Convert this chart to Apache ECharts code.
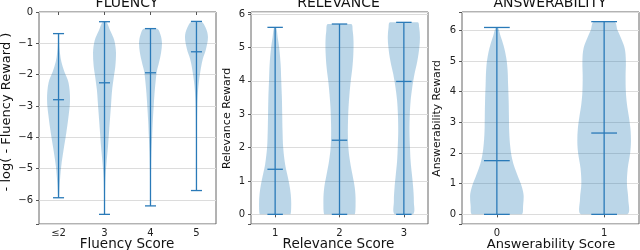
<!DOCTYPE html>
<html>
<head>
<meta charset="utf-8">
<script src="https://cdn.jsdelivr.net/npm/echarts@6/dist/echarts.min.js"></script>
<style>html,body{margin:0;padding:0;background:#fff}#c{width:640px;height:250px}</style>
</head>
<body>
<div id="c"></div>
<script>
// ---------- data ----------
const fluencyLabels = ['≤2', '3', '4', '5'];
const fluencyMin = [-5.93, -6.46, -6.19, -5.70];
const fluencyMax = [-0.69, -0.31, -0.53, -0.30];
const fluencyMedian = [-2.80, -2.26, -1.94, -1.27];
// density profile: [reward value, relative half-width]
const fluencyProfiles = [
  [[-5.93,0.03],[-5.5,0.1],[-4.94,0.23],[-4.4,0.44],[-3.87,0.67],[-3.33,0.87],[-2.8,1.0],[-2.26,0.87],[-1.9,0.5],[-1.6,0.25],[-1.3,0.12],[-1.0,0.06],[-0.69,0.04]],
  [[-6.46,0.03],[-5.9,0.04],[-5.3,0.08],[-4.8,0.18],[-4.3,0.3],[-3.8,0.4],[-3.3,0.5],[-2.9,0.58],[-2.5,0.66],[-2.1,0.8],[-1.7,0.95],[-1.3,1.0],[-0.9,0.85],[-0.6,0.5],[-0.31,0.15]],
  [[-6.19,0.03],[-5.5,0.04],[-5.0,0.05],[-4.5,0.08],[-4.0,0.14],[-3.5,0.2],[-3.0,0.28],[-2.6,0.35],[-2.2,0.45],[-1.9,0.55],[-1.6,0.75],[-1.3,0.92],[-1.0,1.0],[-0.7,0.85],[-0.53,0.55]],
  [[-5.70,0.03],[-4.0,0.04],[-3.0,0.07],[-2.5,0.14],[-2.2,0.22],[-1.8,0.38],[-1.5,0.55],[-1.2,0.82],[-0.8,1.0],[-0.5,0.8],[-0.30,0.4]]
];

const relevanceLabels = ['1', '2', '3'];
const relevanceMin = [0, 0, 0];
const relevanceMax = [5.60, 5.70, 5.75];
const relevanceMedian = [1.35, 2.22, 3.98];
const relevanceProfiles = [
  [[0,0.95],[0.3,1.0],[0.6,0.97],[0.9,0.88],[1.2,0.75],[1.5,0.62],[2.0,0.5],[2.5,0.46],[3.0,0.44],[3.5,0.42],[4.0,0.38],[4.5,0.34],[5.0,0.25],[5.3,0.16],[5.6,0.06]],
  [[0,0.95],[0.4,1.0],[0.8,0.95],[1.2,0.8],[1.6,0.65],[2.0,0.55],[2.4,0.52],[2.8,0.53],[3.2,0.56],[3.6,0.62],[4.0,0.7],[4.4,0.8],[4.8,0.86],[5.2,0.87],[5.5,0.82],[5.7,0.72]],
  [[0,0.56],[0.4,0.62],[0.8,0.58],[1.2,0.5],[1.6,0.42],[2.0,0.38],[2.5,0.35],[3.0,0.37],[3.4,0.42],[3.8,0.52],[4.2,0.66],[4.6,0.84],[5.0,0.96],[5.3,1.0],[5.6,0.95],[5.75,0.86]]
];

const answerLabels = ['0', '1'];
const answerMin = [0, 0];
const answerMax = [6.09, 6.28];
const answerMedian = [1.75, 2.65];
const answerProfiles = [
  [[0,0.92],[0.3,0.98],[0.6,1.0],[0.9,0.93],[1.2,0.8],[1.5,0.67],[1.8,0.57],[2.2,0.5],[2.7,0.46],[3.2,0.45],[3.7,0.44],[4.2,0.42],[4.7,0.4],[5.1,0.35],[5.5,0.25],[5.8,0.14],[6.09,0.04]],
  [[0,0.86],[0.5,0.9],[1.0,0.85],[1.5,0.88],[2.0,0.97],[2.4,1.0],[2.8,0.98],[3.2,0.92],[3.6,0.85],[4.0,0.81],[4.5,0.8],[5.0,0.81],[5.4,0.77],[5.7,0.65],[6.0,0.5],[6.28,0.38]]
];

// ---------- chart ----------
const FONT = 'DejaVu Sans';
const FILL = 'rgba(31,119,180,0.3)';
const LINE = '#2a7ab8';
const HALF = 0.25;   // max half-width of a body (x units)
const CAP = 0.12;    // half-length of caps / median bars

const panels = [
  {labels: fluencyLabels, min: fluencyMin, max: fluencyMax, med: fluencyMedian, prof: fluencyProfiles,
   xr: [0.575, 4.425], yr: [-6.768, 0], left: 39},
  {labels: relevanceLabels, min: relevanceMin, max: relevanceMax, med: relevanceMedian, prof: relevanceProfiles,
   xr: [0.625, 3.375], yr: [-0.289, 6.06], left: 251},
  {labels: answerLabels, min: answerMin, max: answerMax, med: answerMedian, prof: answerProfiles,
   xr: [0.675, 2.325], yr: [-0.314, 6.594], left: 462}
];

function fmtNum(v) {
  if (!Number.isInteger(v)) return '';
  return v < 0 ? '\u2212' + Math.abs(v) : String(v);
}

const grids = [], xAxes = [], yAxes = [], series = [];
panels.forEach((p, k) => {
  grids.push({left: p.left, top: 12, width: 177, height: 212, show: true,
    borderColor: '#666', borderWidth: 1, backgroundColor: 'transparent'});
  const ticks = p.labels.map((_, i) => i + 1);
  xAxes.push({gridIndex: k, type: 'value', min: p.xr[0], max: p.xr[1],
    axisLine: {show: false}, splitLine: {show: false},
    axisTick: {show: true, length: 3, customValues: ticks, lineStyle: {color: '#555'}},
    axisLabel: {customValues: ticks, fontFamily: FONT, fontSize: 10, color: '#222', margin: 4,
      formatter: v => (Number.isInteger(v) && v >= 1 && v <= p.labels.length) ? p.labels[v - 1] : ''}
  });
  yAxes.push({gridIndex: k, type: 'value', min: p.yr[0], max: p.yr[1], splitNumber: 6,
    axisLine: {show: false},
    axisTick: {show: true, length: 3, lineStyle: {color: '#555'}},
    axisLabel: {fontFamily: FONT, fontSize: 10, color: '#222', margin: 6, formatter: fmtNum},
    splitLine: {show: true, lineStyle: {color: '#dcdcdc', width: 1}}
  });
  series.push({
    type: 'custom', xAxisIndex: k, yAxisIndex: k, clip: false,
    data: p.labels.map((_, i) => [i + 1]),
    encode: {x: 0},
    renderItem: (params, api) => {
      const i = params.dataIndex;
      const cx = i + 1;
      const prof = p.prof[i];
      const pts = [];
      for (let j = 0; j < prof.length; j++) pts.push(api.coord([cx - prof[j][1] * HALF, prof[j][0]]));
      for (let j = prof.length - 1; j >= 0; j--) pts.push(api.coord([cx + prof[j][1] * HALF, prof[j][0]]));
      let minX = Infinity, minY = Infinity, maxX = -Infinity, maxY = -Infinity;
      pts.forEach(q => { minX = Math.min(minX, q[0]); maxX = Math.max(maxX, q[0]); minY = Math.min(minY, q[1]); maxY = Math.max(maxY, q[1]); });
      const seg = (x1, y1, x2, y2) => {
        const a = api.coord([x1, y1]), b = api.coord([x2, y2]);
        return {type: 'line', shape: {x1: a[0], y1: a[1], x2: b[0], y2: b[1]},
          style: {stroke: LINE, lineWidth: 1.3}};
      };
      return {type: 'group', children: [
        {type: 'polygon', shape: {points: pts, smooth: 0.35, smoothConstraint: [[minX, minY], [maxX, maxY]]},
         style: {fill: FILL, stroke: null}},
        seg(cx, p.min[i], cx, p.max[i]),
        seg(cx - CAP, p.min[i], cx + CAP, p.min[i]),
        seg(cx - CAP, p.max[i], cx + CAP, p.max[i]),
        seg(cx - CAP, p.med[i], cx + CAP, p.med[i])
      ]};
    }
  });
});

const txt = (text, x, y, size, rot) => ({
  type: 'text', x: x, y: y, rotation: rot || 0,
  style: {text: text, fill: '#111', font: size + 'px "' + FONT + '"', textAlign: 'center', textVerticalAlign: 'middle'}
});

const chart = echarts.init(document.getElementById('c'), null, {renderer: 'canvas'});
chart.setOption({
  animation: false,
  backgroundColor: '#fff',
  grid: grids, xAxis: xAxes, yAxis: yAxes, series: series,
  graphic: [
    txt('FLUENCY', 127, 3.5, 14),
    txt('RELEVANCE', 338.5, 3.5, 14),
    txt('ANSWERABILITY', 550, 3.5, 14),
    txt('Fluency Score', 127, 244.5, 13.5),
    txt('Relevance Score', 338.5, 244.5, 13.5),
    txt('Answerability Score', 551, 244.5, 13),
    txt('- log( - Fluency Reward )', 6.5, 112, 13, Math.PI / 2),
    txt('Relevance Reward', 227, 118.5, 11, Math.PI / 2),
    txt('Answerability Reward', 437, 118.5, 10.8, Math.PI / 2)
  ]
});
</script>
</body>
</html>
